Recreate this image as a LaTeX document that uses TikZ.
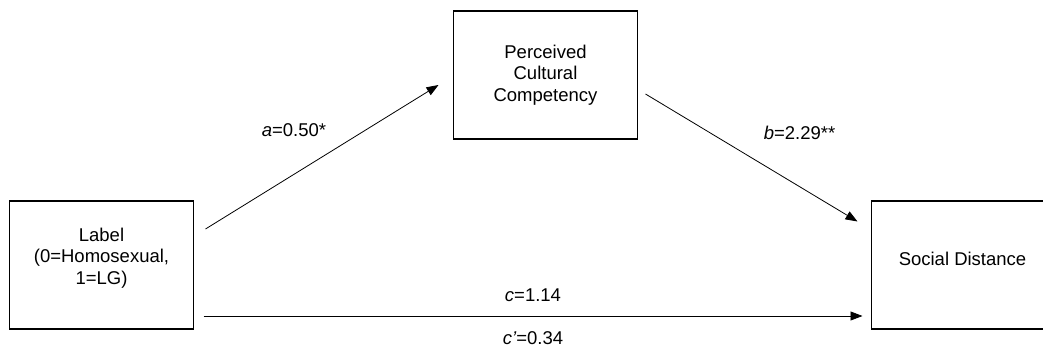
\documentclass[tikz,border=0pt]{standalone}
\usepackage{fontspec}
\setmainfont{Liberation Sans}
\usepackage{tikz}
\usetikzlibrary{positioning}
\usetikzlibrary{arrows.meta}
\tikzset{>={Triangle[length=12pt,width=9pt]}}

\begin{document}
\begin{tikzpicture}[
            var/.style={rectangle, draw, line width=1.3pt, minimum width=184pt, minimum height=128pt, align=center, inner sep=4pt, outer sep=0pt, font=\fontsize{18.5}{21.5}\selectfont},
            path/.style={->, line width=0.8pt},
            coef/.style={font=\fontsize{18.5}{20}\selectfont, inner sep=0pt},
            x=1pt, y=1pt
        ]
        \useasboundingbox (0,0) rectangle (1043,348);
        \node[var, text depth=18pt] (label) at (101.5, 83) {Label\\(0=Homosexual,\\1=LG)};
        \node[var, above right = 62pt and 260pt of label] (percv) {Perceived\\Cultural\\Competency};
        \node[var, right = 678pt of label, minimum width=182pt, text depth=13pt] (social) {Social Distance};
        \draw[path] ([shift={(12pt,36pt)}]label.east) -- node[coef, midway, xshift=-28pt, yshift=27pt] {\textit{a}=0.50*} ([shift={(-15pt,-10pt)}]percv.west);
        \draw[path] ([shift={(8pt,-19pt)}]percv.east) -- node[coef, midway, xshift=48pt, yshift=25pt] {\textit{b}=2.29**} ([shift={(-14pt,43.5pt)}]social.west);
        \draw[path] ([shift={(10pt,13pt)}]label.south east) -- node[coef, midway, yshift=21pt] {\textit{c}=1.14} node[coef, midway, yshift=-22pt] {\textit{c’}=0.34} ([shift={(-9pt,13pt)}]social.south west);
        \end{tikzpicture}
\end{document}
